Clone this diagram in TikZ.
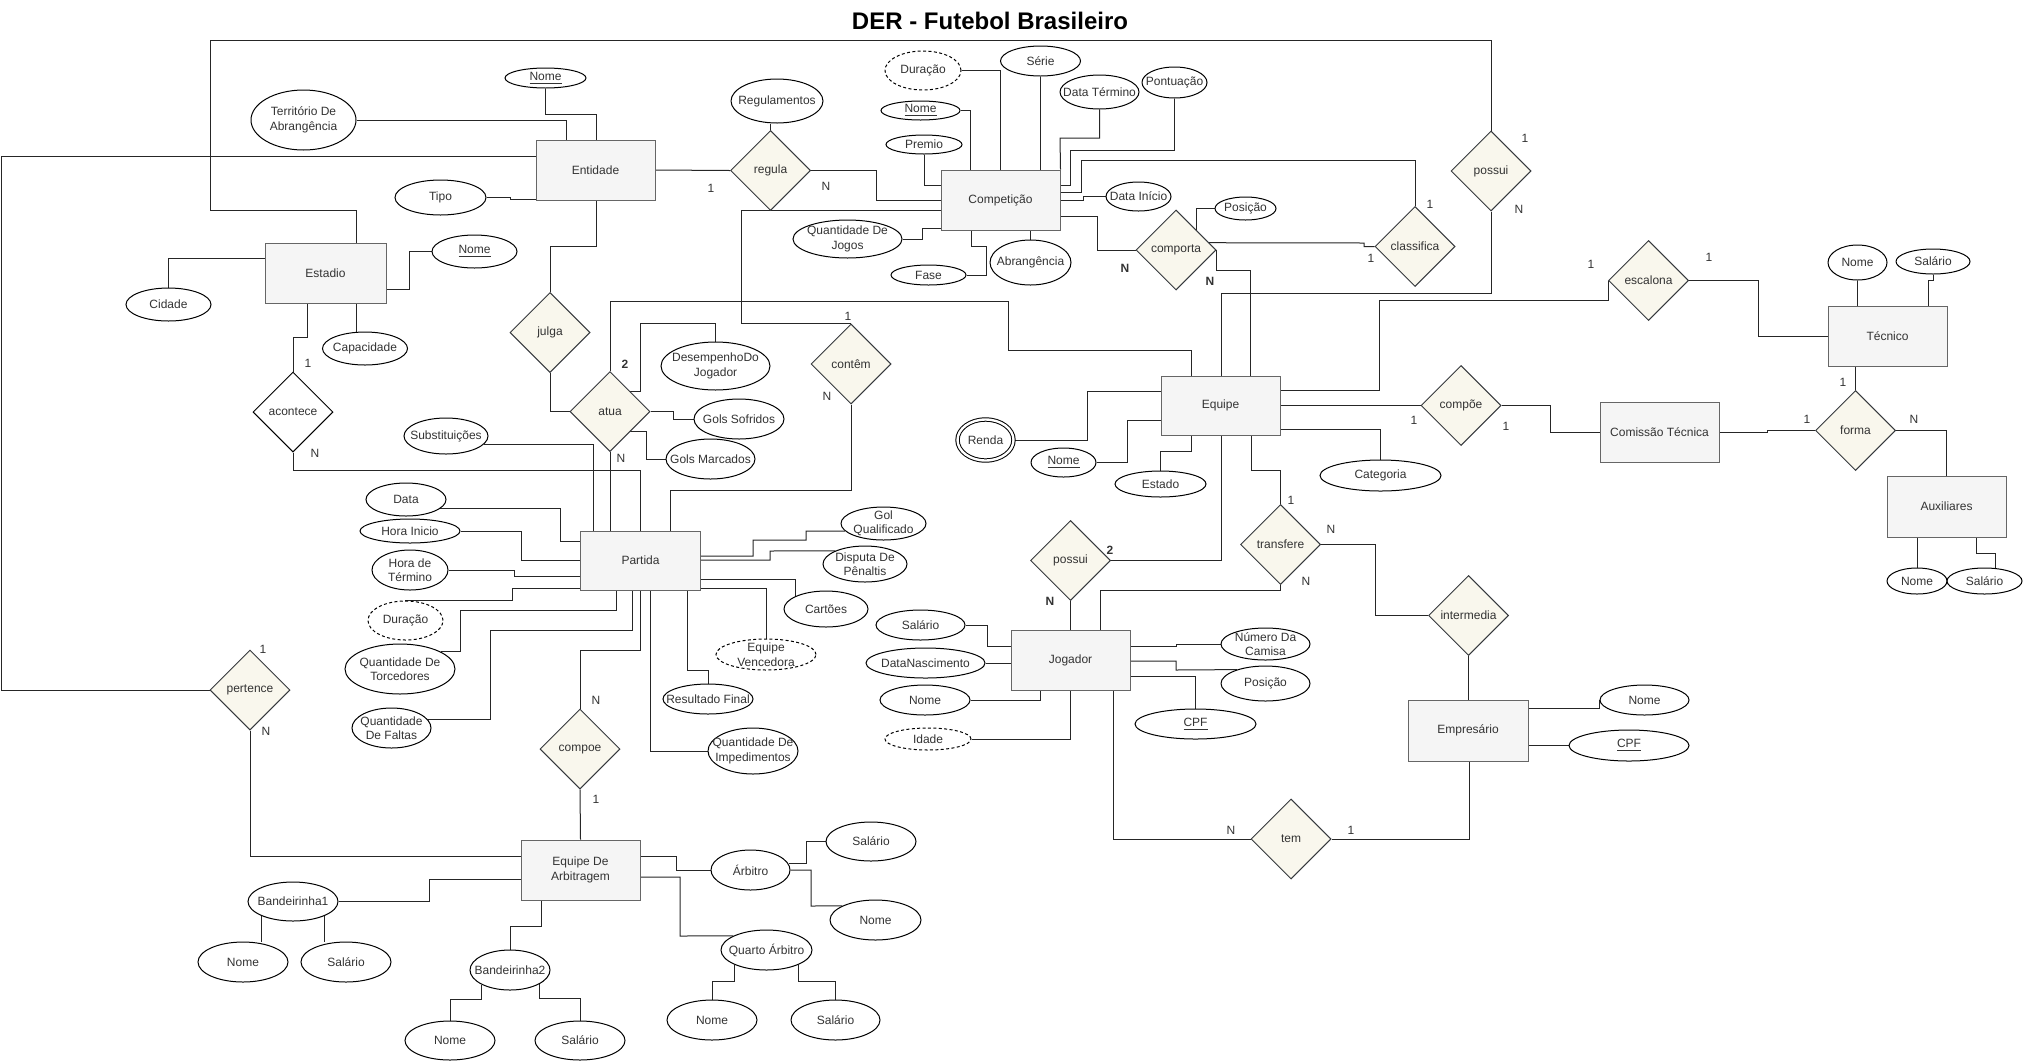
\documentclass[tikz,border=0pt]{standalone}
\usepackage{fontspec}
\setmainfont{Liberation Sans}
\usetikzlibrary{shapes.geometric,calc}
\definecolor{entf}{HTML}{F5F5F5}
\definecolor{entd}{HTML}{666666}
\definecolor{relf}{HTML}{F9F7ED}
\definecolor{reld}{HTML}{36393D}
\definecolor{txtc}{HTML}{333333}
\pgfdeclarelayer{back}
\pgfdeclarelayer{bg}
\pgfsetlayers{back,bg,main}
\tikzset{
  base/.style={font=\fontsize{6}{7.2}\selectfont, text=txtc, align=center},
  ent/.style={base, rectangle, draw=entd, fill=entf, inner sep=0pt, line width=0.5pt},
  rel/.style={base, diamond, draw=reld, fill=relf, inner sep=0pt, minimum width=40pt, minimum height=40pt, line width=0.5pt},
  attrshape/.style={ellipse, draw=black, fill=white, inner sep=0pt, line width=0.5pt},
  dsh/.style={dash pattern=on 1.5pt off 1.2pt},
  txt/.style={base, inner sep=0pt},
  card/.style={base, inner sep=0pt},
  cardb/.style={base, inner sep=0pt, font=\fontsize{6}{7.2}\selectfont\bfseries},
  conn/.style={draw=black!85, line width=0.5pt},
}
\newcommand\Ent[5]{\node[ent,minimum width=#4*0.5pt,minimum height=#5*0.5pt] (#1) at (#2) {#3};}
\newcommand\Rel[4][]{\node[rel,#1] (#2) at (#3) {#4};}
\newcommand\Att[6][]{\node[attrshape,#1,minimum width=#4*0.5pt,minimum height=#5*0.5pt] (#2) at (#3) {};\node[txt] (#2-t) at (#2.center) {#6};}
\newcommand\Card[4][card]{\node[#1] (#2) at (#3) {#4};}
\begin{document}
\begin{tikzpicture}[x=0.5pt,y=-0.5pt]
\begin{pgfonlayer}{back}
\fill[white] (0,0) rectangle (2027,1061);
\end{pgfonlayer}
\path[use as bounding box] (0,0) rectangle (2027,1061);

\node[font=\fontsize{12}{14}\selectfont\bfseries] (title) at (990,21) {DER - Futebol Brasileiro};

% entities
\Ent{entidade}{595.5,170}{Entidade}{119}{60}
\Ent{estadio}{325.5,273}{Estadio}{121}{60}
\Ent{competicao}{1000.5,200}{Competição}{119}{60}
\Ent{partida}{640.5,560.5}{Partida}{120}{59}
\Ent{equipe}{1220.5,405.5}{Equipe}{119}{59}
\Ent{jogador}{1070.5,660}{Jogador}{119}{60}
\Ent{tecnico}{1887.5,336}{Técnico}{119}{60}
\Ent{comissao}{1659.5,432}{Comissão Técnica}{119}{60}
\Ent{auxiliares}{1946.5,506.5}{Auxiliares}{119}{61}
\Ent{empresario}{1468,730.5}{Empresário}{120}{61}
\Ent{arbitragem}{580.5,870}{Equipe De\\Arbitragem}{119}{60}

% relationships
\Rel{regula}{770.5,170.5}{regula}
\Rel{julga}{550,332.5}{julga}
\Rel{atua}{610,411.5}{atua}
\Rel{contem}{851,364}{contêm}
\Rel[fill=white,draw=black]{acontece}{293,412}{acontece}
\Rel{pertence}{250,690}{pertence}
\Rel{compoe}{580,749}{compoe}
\Rel{possuiT}{1491,171}{possui}
\Rel{classifica}{1415,246.5}{classifica}
\Rel{comporta}{1176,250}{comporta}
\Rel{escalona}{1648.5,280.5}{escalona}
\Rel{compoeEq}{1461,405.5}{compõe}
\Rel{forma}{1855.5,430.5}{forma}
\Rel{possuiJ}{1070.5,560.5}{possui}
\Rel{transfere}{1280.5,544.5}{transfere}
\Rel{intermedia}{1468.5,615.5}{intermedia}
\Rel{tem}{1291,839}{tem}

% attributes
\Att{territorio}{303.5,120}{105}{60}{Território De\\Abrangência}
\Att{entNome}{545.5,78}{81}{20}{\underline{Nome}}
\Att{tipo}{440.5,197.5}{91}{35}{Tipo}
\Att{estNome}{474.5,251.5}{85}{33}{\underline{Nome}}
\Att{cidade}{168.5,304.5}{85}{33}{Cidade}
\Att{capacidade}{365,348.5}{85}{33}{Capacidade}
\Att{regulamentos}{777,101}{92}{44}{Regulamentos}
\Att[dsh]{compDuracao}{923,70.5}{76}{39}{Duração}
\Att{compNome}{920.5,110.5}{79}{19}{\underline{Nome}}
\Att{premio}{924,144.5}{76}{19}{Premio}
\Att{serie}{1040.5,61}{80}{30}{Série}
\Att{dataTermino}{1099.5,92}{79}{34}{Data Término}
\Att{pontuacao}{1174.5,82.5}{65}{31}{Pontuação}
\Att{dataInicio}{1138.5,196.5}{65}{29}{Data Início}
\Att{abrangencia}{1030.5,262.5}{81}{45}{Abrangência}
\Att{qtdJogos}{847.5,239}{109}{38}{Quantidade De\\Jogos}
\Att{fase}{928.5,275}{75}{20}{Fase}
\Att{posicaoC}{1245.5,208.5}{61}{23}{Posição}
\Att{desempenho}{715.5,366}{109}{48}{DesempenhoDo\\Jogador}
\Att{golsSofridos}{739,419}{90}{40}{Gols Sofridos}
\Att{golsMarcados}{710.5,459}{89}{40}{Gols Marcados}
\Att{substituicoes}{446,436}{84}{36}{Substituições}
\Att{data}{406,499.5}{80}{33}{Data}
\Att{horaInicio}{410,531}{100}{24}{Hora Inicio}
\Att{horaTermino}{410,570}{76}{40}{Hora de\\Término}
\Att[dsh]{partDuracao}{405.5,620.5}{75}{39}{Duração}
\Att{torcedores}{400,669}{110}{50}{Quantidade De\\Torcedores}
\Att{faltas}{391.5,728}{79}{40}{Quantidade\\De Faltas}
\Att{golQualificado}{883.5,523.5}{85}{33}{Gol\\Qualificado}
\Att{penaltis}{865,564}{84}{36}{Disputa De\\Pênaltis}
\Att{cartoes}{826,609}{84}{36}{Cartões}
\Att[dsh]{vencedora}{766,654.5}{100}{31}{Equipe\\Vencedora}
\Att{resultado}{708,699}{90}{30}{Resultado Final}
\Att{impedimentos}{753,751}{90}{46}{Quantidade De\\Impedimentos}
\Att[double,double distance=1.2pt]{renda}{985.5,440}{56}{41}{Renda}
\Att{eqNome}{1063.5,462.5}{65}{29}{\underline{Nome}}
\Att{estado}{1160.5,484}{91}{26}{Estado}
\Att{categoria}{1380.5,475.5}{121}{31}{Categoria}
\Att{tecNome}{1857.5,262.5}{59}{35}{Nome}
\Att{tecSalario}{1933,261.5}{74}{25}{Salário}
\Att{auxNome}{1917,581}{60}{26}{Nome}
\Att{auxSalario}{1984.5,581}{75}{26}{Salário}
\Att{empNome}{1644.5,700}{89}{30}{Nome}
\Att{empCPF}{1629,745.5}{120}{31}{\underline{CPF}}
\Att{camisa}{1265.5,644}{89}{32}{Número Da\\Camisa}
\Att{posicaoJ}{1265.5,683.5}{89}{35}{Posição}
\Att{cpfJ}{1195.5,724}{121}{30}{\underline{CPF}}
\Att{salarioJ}{920.5,625}{89}{30}{Salário}
\Att{nascimento}{925.5,663}{119}{30}{DataNascimento}
\Att{nomeJ}{925,700}{90}{30}{Nome}
\Att[dsh]{idade}{928,739}{86}{22}{Idade}
\Att{arbitro}{750.5,870}{79}{40}{Árbitro}
\Att{arbSalario}{871,841.5}{90}{39}{Salário}
\Att{arbNome}{875.5,920}{91}{40}{Nome}
\Att{quarto}{766.5,950}{91}{40}{Quarto Árbitro}
\Att{quartoNome}{712,1020}{90}{40}{Nome}
\Att{quartoSalario}{835.5,1020}{89}{40}{Salário}
\Att{band1}{293,901.5}{90}{39}{Bandeirinha1}
\Att{b1Nome}{243,962}{90}{40}{Nome}
\Att{b1Salario}{346,962}{90}{40}{Salário}
\Att{band2}{510,970}{80}{40}{Bandeirinha2}
\Att{b2Nome}{450,1040.5}{90}{39}{Nome}
\Att{b2Salario}{580,1040.5}{90}{39}{Salário}

% cardinalities
\Card{k1}{711,188}{1}
\Card{k2}{826,186}{N}
\Card{k3}{848,316}{1}
\Card{k4}{827,396}{N}
\Card[cardb]{k5}{625,364}{2}
\Card{k6}{621,458}{N}
\Card{k7}{308,363}{1}
\Card{k8}{315,453}{N}
\Card{k9}{263,649}{1}
\Card{k10}{266,731}{N}
\Card{k11}{596,700}{N}
\Card{k12}{596,799}{1}
\Card{k13}{1525,138}{1}
\Card{k14}{1519,209}{N}
\Card{k15}{1430,204}{1}
\Card{k16}{1371,258}{1}
\Card[cardb]{k17}{1125,268}{N}
\Card[cardb]{k18}{1210,281}{N}
\Card{k19}{1591,264}{1}
\Card{k20}{1709,257}{1}
\Card{k21}{1414,420}{1}
\Card{k22}{1506,426}{1}
\Card{k23}{1843,382}{1}
\Card{k24}{1807,419}{1}
\Card{k25}{1914,419}{N}
\Card[cardb]{k26}{1110,550}{2}
\Card[cardb]{k27}{1050,601}{N}
\Card{k28}{1291,500}{1}
\Card{k29}{1331,529}{N}
\Card{k30}{1306,581}{N}
\Card{k31}{1231,830}{N}
\Card{k32}{1351,830}{1}

\begin{pgfonlayer}{bg}
% Entidade
\draw[conn] (territorio.east) -| (entidade.north -| 566,0);
\draw[conn] (entNome.south) |- (596,114) -- (entidade.north -| 596,0);
\draw[conn] (tipo.east) -- (510,197.5) -- (510,199) -- (entidade.west |- 0,199);
\draw[conn] (entidade.west |- 0,156) -- (1,156) |- (pertence.west);
\draw[conn] (entidade.south -| 596,0) -- (596,246) -| (julga.north);
\draw[conn] (entidade.east) -- (regula.west);
\draw[conn] (regula.north) -- (regula.north |- regulamentos.south);
\draw[conn] (regula.east) -| (876,200) -- (competicao.west);
\draw[conn] (competicao.west |- 0,210) -- (741,210) |- (contem.north);
\draw[conn] (contem.south) |- (670,490) -- (partida.north -| 670,0);
\draw[conn] (julga.south) |- (atua.west);
\draw[conn] (atua.south) -- (partida.north -| atua.south);
\draw[conn] (atua.north) -- (610,301) -| (1008,350) -| (equipe.north -| 1191,0);
\draw[conn] ($(atua.north)!.5!(atua.east)$) -| (640,323) -| (desempenho.north);
\draw[conn] (atua.east) -- (673,411.5) |- (golsSofridos.west);
\draw[conn] ($(atua.east)!.5!(atua.south)$) -| (646,459) -- (golsMarcados.west);
% Estadio
\draw[conn] (estadio.north -| 356,0) -- (356,210) -- (210,210) -- (210,40) -| (possuiT.north);
\draw[conn] (possuiT.south) |- (1221,293) -- (equipe.north -| 1221,0);
\draw[conn] (estadio.west |- 0,258) -| (cidade.north);
\draw[conn] (estadio.east |- 0,289) -| (409,251.5) -- (estNome.west);
\draw[conn] (estadio.south -| 356,0) -- (capacidade.north -| 356,0);
\draw[conn] (estadio.south -| 307,0) -- (307,337) -| (acontece.north);
\draw[conn] (acontece.south) |- (640,470) -- (partida.north -| 640,0);
% Partida
\draw[conn] (substituicoes.-12) -| (partida.north -| 593,0);
\draw[conn] (data.-15) -| (560,541) -- (partida.west |- 0,541);
\draw[conn] (horaInicio.east) -| (521,560) -- (partida.west |- 0,560);
\draw[conn] (horaTermino.east) -| (514,576) -- (partida.west |- 0,576);
\draw[conn] (partDuracao.north) -- (405.5,600) -| (512,588) -- (partida.west |- 0,588);
\draw[conn] (torcedores.23) -| (460,610) -| (partida.south -| 616,0);
\draw[conn] (faltas.13) -| (490,630) -| (partida.south -| 632,0);
\draw[conn] (partida.south -| 640,0) -- (640,650) -| (compoe.north);
\draw[conn] (compoe.south) -- (arbitragem.north);
\draw[conn] (partida.south -| 650,0) |- (impedimentos.west);
\draw[conn] (partida.south -| 687,0) -- (687,670) -| (resultado.north);
\draw[conn] (partida.east |- 0,588) -| (vencedora.north);
\draw[conn] (partida.east |- 0,579) -| (cartoes.157);
\draw[conn] (partida.east |- 0,560) -| (770,551) -- (penaltis.156);
\draw[conn] (partida.east |- 0,556) -| (753,540) -| (806,531) -- (golQualificado.191);
% Competicao
\draw[conn] (compDuracao.east) -| (competicao.north -| 1000,0);
\draw[conn] (compNome.east) -| (competicao.north -| 970,0);
\draw[conn] (premio.south) |- (competicao.west |- 0,185);
\draw[conn] (serie.south) -- (competicao.north -| serie.south);
\draw[conn] (dataTermino.south) |- (1060,138) -- (competicao.north east);
\draw[conn] (pontuacao.south) |- (1070,150) |- (competicao.east |- 0,185);
\draw[conn] (competicao.east |- 0,192) -| (1081,160) -| (classifica.north);
\draw[conn] (dataInicio.west) -| (1083,200) -- (competicao.east);
\draw[conn] (competicao.east |- 0,216) -| (1097,250) -- (comporta.west);
\draw[conn] (abrangencia.north) -- (competicao.south -| abrangencia.north);
\draw[conn] (qtdJogos.east) -| (922,228) -- (competicao.west |- 0,228);
\draw[conn] (fase.east) -| (986,246) -| (competicao.south -| 971,0);
% comporta
\draw[conn] (posicaoC.west) -| ($(comporta.north)!.5!(comporta.east)$);
\draw[conn] ($(comporta.north)!.82!(comporta.east)$) -- (1364,243) |- (classifica.west);
\draw[conn] (comporta.east) |- (1250,270) -- (equipe.north -| 1250,0);
% Equipe
\draw[conn] (equipe.east |- 0,390) -| (1379,300) -| (escalona.west);
\draw[conn] (escalona.east) -| (1758,336) -- (tecnico.west);
\draw[conn] (tecNome.south) -- (tecnico.north -| tecNome.south);
\draw[conn] (tecSalario.south) |- (1928,280) -- (tecnico.north -| 1928,0);
\draw[conn] (forma.north |- tecnico.south) -- (forma.north);
\draw[conn] (comissao.east) -| (1767,430.5) -- (forma.west);
\draw[conn] (forma.east) -| (auxiliares.north);
\draw[conn] (auxNome.north) -- (auxiliares.south -| auxNome.north);
\draw[conn] (auxSalario.north -| 1995,0) |- (1976,553) -- (auxiliares.south -| 1976,0);
\draw[conn] (equipe.east) -- (compoeEq.west);
\draw[conn] (compoeEq.east) -| (1550,432) -- (comissao.west);
\draw[conn] (equipe.east |- 0,429) -| (categoria.north);
\draw[conn] (renda.east) -| (1087,391) -- (equipe.west |- 0,391);
\draw[conn] (eqNome.east) -| (1127,420) -- (equipe.west |- 0,420);
\draw[conn] (estado.north) |- (1191,451) -- (equipe.south -| 1191,0);
\draw[conn] (equipe.south -| 1251,0) -- (1251,470) -| (transfere.north);
\draw[conn] (equipe.south -| 1221,0) |- (possuiJ.east);
\draw[conn] (possuiJ.south) -- (jogador.north -| possuiJ.south);
\draw[conn] (transfere.south) |- (1100,590) -- (jogador.north -| 1100,0);
\draw[conn] (transfere.east) -| (1375,615.5) -- (intermedia.west);
\draw[conn] (intermedia.south) -- (empresario.north -| intermedia.south);
\draw[conn] (jogador.south -| 1113,0) |- (tem.west);
\draw[conn] (tem.east) -| (empresario.south -| 1469,0);
\draw[conn] (empresario.east |- 0,708) -| (empNome.west);
\draw[conn] (empresario.east |- 0,745.5) -- (empCPF.west);
\draw[conn] (jogador.east |- 0,646) -- (1176,646) |- (camisa.west);
\draw[conn] (jogador.east |- 0,661) -| (1176,670) -- (posicaoJ.154);
\draw[conn] (jogador.east |- 0,676) -| (cpfJ.north);
\draw[conn] (salarioJ.east) -| (987,646) -- (jogador.west |- 0,646);
\draw[conn] (nascimento.east) -- (jogador.west |- nascimento.east);
\draw[conn] (nomeJ.east) -| (jogador.south -| 1040,0);
\draw[conn] (idade.east) -| (jogador.south -| 1070,0);
% Arbitragem
\draw[conn] (pertence.south) |- (arbitragem.west |- 0,856);
\draw[conn] (band1.east) -| (429,879) -- (arbitragem.west |- 0,879);
\draw[conn] (band1.205) -- (b1Nome.north -| band1.205);
\draw[conn] (band1.335) -- (b1Salario.north -| band1.335);
\draw[conn] (arbitragem.south -| 541,0) |- (510,926) -- (band2.north);
\draw[conn] (band2.207) -- ++(0,15) -| (b2Nome.north);
\draw[conn] (band2.335) -- ++(0,15) -| (b2Salario.north);
\draw[conn] (arbitragem.east |- 0,856) -| (676,870) -- (arbitro.west);
\draw[conn] (arbitro.9) -| (806,841.5) -- (arbSalario.west);
\draw[conn] (arbitro.east) -| (811,906) -- (arbNome.157);
\draw[conn] (arbitragem.east |- 0,877) -| (680,936) -- (quarto.157);
\draw[conn] (quarto.205) -- ++(0,17) -| (quartoNome.north);
\draw[conn] (quarto.335) -- ++(0,17) -| (quartoSalario.north);
\end{pgfonlayer}
\end{tikzpicture}
\end{document}
